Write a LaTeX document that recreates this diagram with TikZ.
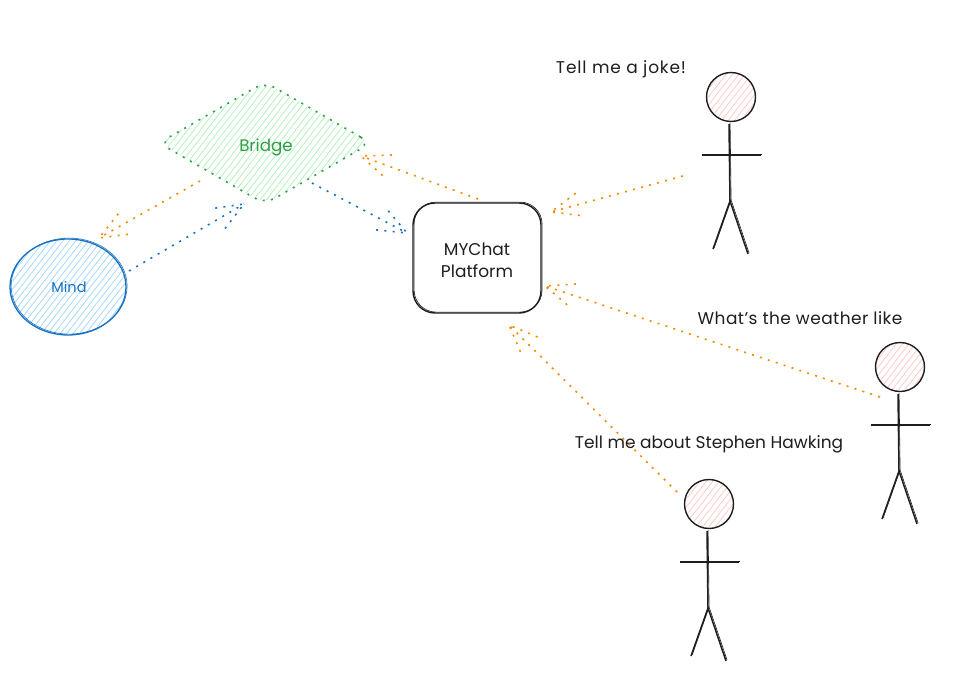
\documentclass[tikz,border=0pt]{standalone}
\usepackage{fontspec}
\setmainfont{Poppins}
\usetikzlibrary{calc,patterns.meta,shapes.geometric}

\definecolor{inkblack}{HTML}{1E1E1E}
\definecolor{flowblue}{HTML}{1971C2}
\definecolor{floworange}{HTML}{F08C00}
\definecolor{flowgreen}{HTML}{2F9E44}
\definecolor{hatchblue}{HTML}{A5D8FF}
\definecolor{hatchgreen}{HTML}{B2F2BB}
\definecolor{hatchred}{HTML}{FFC9C9}

\tikzset{
	hatch/.style={pattern={Lines[angle=52,distance=5pt,line width=0.8pt]}, pattern color=#1},
	sketch/.style={postaction={draw, line width=0.6pt, transform canvas={shift={(1.1pt,0.9pt)}}}},
	limb/.style={line width=1.5pt, color=inkblack, sketch},
	head/.style={circle, draw=inkblack, line width=1.4pt, minimum size=49pt, inner sep=0pt, outer sep=0pt, hatch=hatchred},
	flow/.style={line width=1.6pt, dash pattern=on 2pt off 6.3pt, color=#1},
	saying/.style={font=\fontsize{17}{22}\selectfont, text=inkblack, inner sep=0pt},
}
\def\flow[#1](#2)(#3){\draw[flow=#1] (#2) -- (#3); \draw[flow=#1] ($(#3)!31pt!22:(#2)$) -- (#3) -- ($(#3)!31pt!-22:(#2)$);}
\def\stickman#1(#2,#3){
	\node[head] (#1) at (#2,#3) {};
	\draw[limb] ($(#1)+(-2,27)$) -- ($(#1)+(-1,104)$);
	\draw[limb] ($(#1)+(-29,58)$) -- ($(#1)+(30,58)$);
	\draw[limb] ($(#1)+(-18,152)$) -- ($(#1)+(-1,104)$) -- ($(#1)+(17,157)$);
}

\begin{document}
\begin{tikzpicture}[x=1pt, y=-1pt]
	\useasboundingbox (0,0) rectangle (965,687);
	
	%%%%% NODES %%%%%
	\node[ellipse, draw=flowblue, line width=1.3pt, minimum width=116pt, minimum height=96pt, inner sep=0pt, outer sep=0pt, hatch=hatchblue, sketch] (mind) at (68,287) {};
	\node[font=\fontsize{14.5}{18}\selectfont, text=flowblue, inner sep=0pt] (mindlabel) at (69,287) {Mind};
	
	\node[diamond, rounded corners=12pt, minimum width=212pt, minimum height=122pt, inner sep=0pt, outer sep=0pt, hatch=hatchgreen, postaction={draw=flowgreen, line width=1.6pt, dash pattern=on 2pt off 6.3pt}] (bridge) at (265,143) {};
	\node[font=\fontsize{16.7}{20}\selectfont, text=flowgreen, inner sep=0pt] (bridgelabel) at (266,147) {Bridge};
	
	\node[rectangle, draw=inkblack, line width=1.4pt, rounded corners=22pt, minimum width=128pt, minimum height=110pt, inner sep=0pt, outer sep=0pt, sketch] (platform) at (477,258) {};
	\node[saying, align=center, font=\fontsize{17}{22}\selectfont] (platformlabel) at (477,260) {MYChat\\Platform};
	
	\stickman{joker}(731,97)
	\stickman{weather}(900,367)
	\stickman{hawking}(709,504)
	
	\node[saying] (jokelabel) at (621,69) {\addfontfeature{LetterSpace=5}Tell me a joke!};
	\node[saying] (weatherlabel) at (800,318) {\addfontfeature{LetterSpace=2.5}What\symbol{39}s the weather like};
	\node[saying] (hawkinglabel) at (709,444) {Tell me about Stephen Hawking};
	
	%%%%% CONNECTORS %%%%%
	\coordinate (mindout) at ($(mind)+(61,-16)$);
	\coordinate (mindin) at ($(mind)+(31,-49)$);
	\coordinate (bridgeleft) at ($(bridge)+(-65,38)$);
	\coordinate (bridgetip) at ($(bridge)+(-21,61)$);
	\coordinate (bridgeright) at ($(bridge)+(47,40)$);
	\coordinate (bridgein) at ($(bridge)+(96,13)$);
	\coordinate (platformleft) at ($(platform)+(-70,-25)$);
	\coordinate (platformtop) at ($(platform)+(1,-59)$);
	\coordinate (platformjoke) at ($(platform)+(74,-46)$);
	\coordinate (platformweather) at ($(platform)+(68,28)$);
	\coordinate (platformhawking) at ($(platform)+(32,67)$);
	\coordinate (jokerout) at ($(joker)+(-48,79)$);
	\coordinate (weatherout) at ($(weather)+(-20,30)$);
	\coordinate (hawkingout) at ($(hawking)+(-32,-12)$);
	
	\flow[flowblue](mindout)(bridgetip);
	\flow[floworange](bridgeleft)(mindin);
	\flow[flowblue](bridgeright)(platformleft);
	\flow[floworange](platformtop)(bridgein);
	\flow[floworange](jokerout)(platformjoke);
	\flow[floworange](weatherout)(platformweather);
	\flow[floworange](hawkingout)(platformhawking);
\end{tikzpicture}
\end{document}
